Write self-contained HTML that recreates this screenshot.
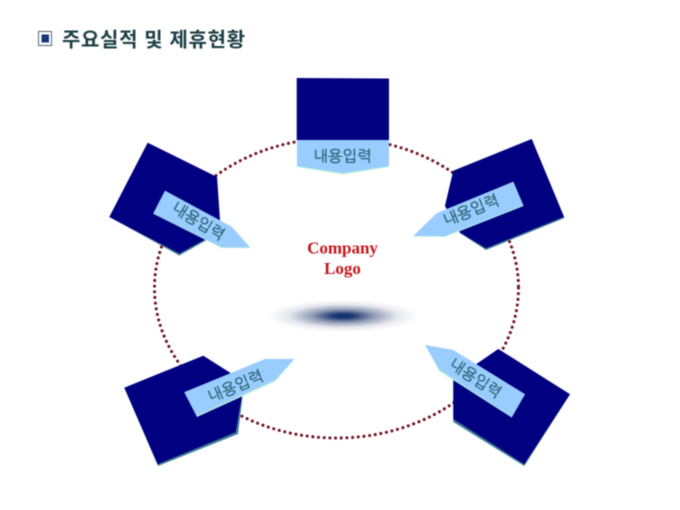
<!DOCTYPE html>
<html>
<head>
<meta charset="utf-8">
<style>
html,body{margin:0;padding:0;background:#fff}
body{width:680px;height:510px;overflow:hidden;position:relative}
svg{position:absolute;left:0;top:0;filter:blur(.45px)}
.k{font-family:"Liberation Sans","NanumGothic","Noto Sans CJK KR",sans-serif;font-size:15.5px;fill:#1d5560;stroke:#1d5560;stroke-width:.15;text-anchor:middle;dominant-baseline:central}
.t{font-family:"Liberation Sans","Noto Sans CJK KR",sans-serif;font-size:20px;font-weight:700;fill:#1c3f44}
.c{font-family:"Liberation Serif",serif;font-size:17px;font-weight:700;fill:#c4161c;text-anchor:middle}
</style>
</head>
<body>
<svg width="680" height="510" viewBox="0 0 680 510" xmlns="http://www.w3.org/2000/svg">
<defs>
<radialGradient id="g">
<stop offset="0" stop-color="#0c2a6e"/>
<stop offset=".14" stop-color="#1f3a72"/>
<stop offset=".4" stop-color="#8f9bb5"/>
<stop offset=".72" stop-color="#e6e8ee"/>
<stop offset="1" stop-color="#ffffff"/>
</radialGradient>
</defs>
<rect x="38.5" y="31.5" width="13" height="14" fill="#fff" stroke="#54656e" stroke-width="1"/>
<rect x="41.5" y="34.5" width="7.5" height="8" fill="#12367a"/>
<text x="62" y="46.5" class="t" textLength="183" lengthAdjust="spacing">주요실적 및 제휴현황</text>

<ellipse cx="336.5" cy="288" rx="182" ry="150" fill="none" stroke="#6f1220" stroke-width="3.1" stroke-linecap="round" stroke-dasharray="0 5.7"/>

<ellipse cx="343" cy="316" rx="76" ry="16" fill="url(#g)"/>
<text x="342.5" y="253.5" class="c">Company</text>
<text x="342.5" y="274" class="c">Logo</text>

<!-- top -->
<polygon points="296.7,78 389,78.5 389,140 296.7,140" fill="#000080"/>
<polygon points="297,140 389,140 389,167 343,174.5 297,167" fill="#b7f0d8"/>
<polygon points="297,140 389,140 389,166 343,173 297,166" fill="#99ccff"/>
<text x="342.5" y="157" class="k">내용입력</text>

<!-- upper left -->
<polygon points="147.7,142.7 217,177 221,232 179.3,255.5 109.3,217" fill="#3f7f95"/>
<polygon points="147.7,142.7 217,177 220.5,231 179.3,253.5 109.3,217" fill="#000080"/>
<polygon points="165,190.7 231.7,226.7 250,248 221.7,248 153.3,213.8" fill="#b7f0d8"/>
<polygon points="165,190.7 231.7,226.7 250,247.3 221.7,247.3 153.3,213.3" fill="#99ccff"/>
<text x="198" y="222" class="k" transform="rotate(31 198 222)">내용입력</text>

<!-- upper right -->
<polygon points="531.7,139 564.5,218 486,250 460,233 445,206 453.3,170.7" fill="#3f7f95"/>
<polygon points="531.7,139 564,216.7 486,248.3 460,232.7 445,206 453.3,170.7" fill="#000080"/>
<polygon points="513.3,181.7 523.5,206 445,237 413.3,236.5 436.7,213.3" fill="#b7f0d8"/>
<polygon points="513.3,181.7 523.3,205 445,236 413.3,236 436.7,213.3" fill="#99ccff"/>
<text x="471.5" y="211" class="k" transform="rotate(-22 471.5 211)">내용입력</text>

<!-- lower left -->
<polygon points="203.3,355.7 244.3,381.7 238,434 158,466 124.3,387.7" fill="#3f7f95"/>
<polygon points="203.3,355.7 244.3,381.7 235.7,432.3 157.7,464.3 124.3,387.7" fill="#000080"/>
<polygon points="184.3,392.3 265,359 294.3,359 276,381 197,417" fill="#b7f0d8"/>
<polygon points="184.3,392.3 265,359 294.3,359 275,380 196.7,415.7" fill="#99ccff"/>
<text x="236" y="387" class="k" transform="rotate(-23 236 387)">내용입력</text>

<!-- lower right -->
<polygon points="498.3,349 570,394.3 524.3,466 453.3,422 453.3,380" fill="#3f7f95"/>
<polygon points="498.3,349 570,394.3 524.3,464.3 453.3,419 453.3,380" fill="#000080"/>
<polygon points="425,345 453.3,350 525,394.3 511.7,417.5 439,371" fill="#b7f0d8"/>
<polygon points="425,345 453.3,350 525,394.3 511.7,416.7 440,370" fill="#99ccff"/>
<text x="475" y="379" class="k" transform="rotate(33 475 379)">내용입력</text>
</svg>
</body>
</html>
